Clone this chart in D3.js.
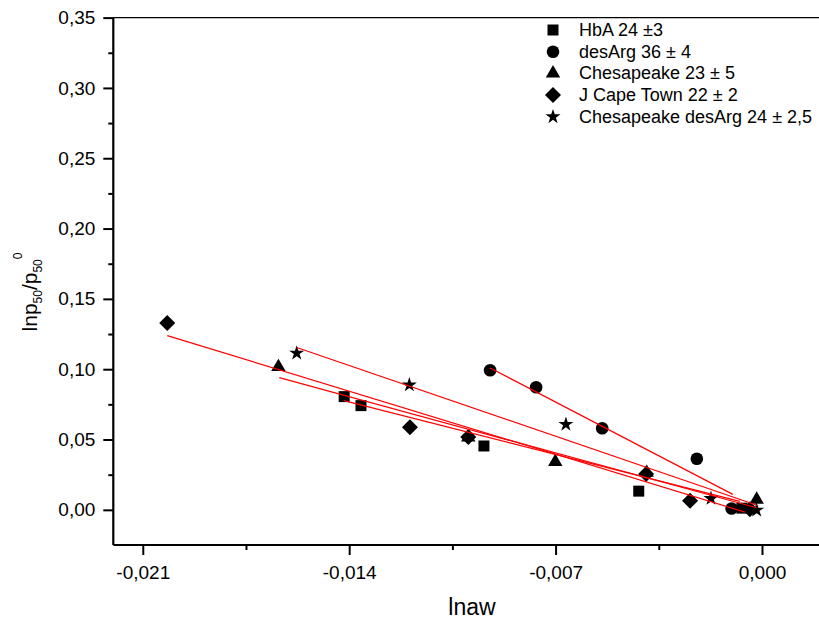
<!DOCTYPE html>
<html>
<head>
<meta charset="utf-8">
<script src="https://cdn.jsdelivr.net/npm/d3@7"></script>
<style>
body { margin:0; background:#fff; }
text { font-family: "Liberation Sans", Arial, sans-serif; fill:#000; }
</style>
</head>
<body>
<div id="chart"></div>
<script>
// values
var seriesNames = ["HbA 24 \u00b13", "desArg 36 \u00b1 4", "Chesapeake 23 \u00b1 5", "J Cape Town 22 \u00b1 2", "Chesapeake desArg 24 \u00b1 2,5"];

var hbaX = [-0.01417, -0.01360, -0.00943, -0.00418, -0.00068];
var hbaY = [0.0805, 0.0741, 0.0454, 0.0133, 0.0012];

var desArgX = [-0.00922, -0.00766, -0.00542, -0.00221, -0.00103];
var desArgY = [0.0993, 0.0872, 0.0580, 0.0363, 0.0010];

var chesX = [-0.01640, -0.00996, -0.00701, -0.00391, -0.00018];
var chesY = [0.1016, 0.0516, 0.0342, 0.0264, 0.0073];

var capeX = [-0.02017, -0.01194, -0.00996, -0.00393, -0.00244, -0.00041];
var capeY = [0.1328, 0.0587, 0.0518, 0.0254, 0.0064, 0.0005];

var starX = [-0.01578, -0.01196, -0.00665, -0.00173, -0.00018];
var starY = [0.1114, 0.0888, 0.0608, 0.0081, -0.0002];

// fitted lines: [x start, y start, x end, y end]
var hbaFit = [-0.01418, 0.0776, -0.00075, 0.0060];
var desArgFit = [-0.00922, 0.1009, -0.00099, 0.0110];
var chesFit = [-0.01637, 0.0940, -0.00018, 0.0015];
var capeFit = [-0.02017, 0.1239, -0.00058, -0.0016];
var starFit = [-0.01578, 0.1154, -0.00017, 0.0033];

var xTicks = [-0.021, -0.014, -0.007, 0];
var xMinor = [-0.0175, -0.0105, -0.0035];
var yTicks = [0, 0.05, 0.10, 0.15, 0.20, 0.25, 0.30, 0.35];
var yMinor = [0.025, 0.075, 0.125, 0.175, 0.225, 0.275, 0.325];

var width = 819, height = 623;

var xScale = d3.scaleLinear()
    .domain([-0.022, 0.0025])
    .range([113.3, 835.7]);

var yScale = d3.scaleLinear()
    .domain([-0.025, 0.35])
    .range([545, 17.6]);

var fmtX = function(d){ return d3.format(".3f")(d).replace("\u2212", "-").replace(".", ","); };
var fmtY = function(d){ return d3.format(".2f")(d).replace(".", ","); };

var diamond = {
    draw: function(ctx, size){
        var r = Math.sqrt(size / 2);
        ctx.moveTo(0, -r); ctx.lineTo(r, 0); ctx.lineTo(0, r); ctx.lineTo(-r, 0); ctx.closePath();
    }
};

var symbols = [
    d3.symbol().type(d3.symbolSquare).size(121),
    d3.symbol().type(d3.symbolCircle).size(125),
    d3.symbol().type(d3.symbolTriangle).size(90),
    d3.symbol().type(diamond).size(128),
    d3.symbol().type(d3.symbolStar).size(70)
];

var series = [
    {x: hbaX, y: hbaY, fit: hbaFit},
    {x: desArgX, y: desArgY, fit: desArgFit},
    {x: chesX, y: chesY, fit: chesFit},
    {x: capeX, y: capeY, fit: capeFit},
    {x: starX, y: starY, fit: starFit}
];

var svg = d3.select("#chart").append("svg")
    .attr("width", width)
    .attr("height", height);

// frame lines
svg.append("line")
    .attr("x1", xScale.range()[0]).attr("x2", width)
    .attr("y1", yScale(0.35)).attr("y2", yScale(0.35))
    .attr("stroke", "#000").attr("stroke-width", 1.3);

var xAxis = svg.append("g")
    .attr("transform", "translate(0," + yScale.range()[0] + ")")
    .call(d3.axisBottom(xScale).tickValues(xTicks).tickFormat(fmtX).tickSize(10).tickPadding(11));
xAxis.select(".domain").attr("stroke-width", 2.2).attr("d", "M" + xScale.range()[0] + ",0H" + width);
xAxis.selectAll(".tick line").attr("stroke-width", 2);
xAxis.selectAll("text").attr("font-size", 19).style("font-family", "Liberation Sans, Arial, sans-serif");

svg.append("g")
    .attr("transform", "translate(0," + yScale.range()[0] + ")")
    .call(d3.axisBottom(xScale).tickValues(xMinor).tickFormat("").tickSize(5))
    .call(function(g){ g.select(".domain").remove(); g.selectAll("line").attr("stroke-width", 2); });

var yAxis = svg.append("g")
    .attr("transform", "translate(" + xScale.range()[0] + ",0)")
    .call(d3.axisLeft(yScale).tickValues(yTicks).tickFormat(fmtY).tickSize(10).tickPadding(8));
yAxis.select(".domain").attr("stroke-width", 2.2).attr("d", "M0," + yScale.range()[0] + "V" + yScale.range()[1]);
yAxis.selectAll(".tick line").attr("stroke-width", 2);
yAxis.selectAll("text").attr("font-size", 19).style("font-family", "Liberation Sans, Arial, sans-serif");

svg.append("g")
    .attr("transform", "translate(" + xScale.range()[0] + ",0)")
    .call(d3.axisLeft(yScale).tickValues(yMinor).tickFormat("").tickSize(5))
    .call(function(g){ g.select(".domain").remove(); g.selectAll("line").attr("stroke-width", 2); });

// axis titles
svg.append("text")
    .attr("x", 472).attr("y", 615)
    .attr("text-anchor", "middle")
    .attr("font-size", 23)
    .text("lnaw");

var ylab = svg.append("text")
    .attr("transform", "translate(37,292) rotate(-90)")
    .attr("text-anchor", "middle")
    .attr("font-size", 21);
ylab.append("tspan").text("lnp");
ylab.append("tspan").attr("font-size", 12).attr("dy", 5).text("50");
ylab.append("tspan").attr("dy", -5).text("/p");
ylab.append("tspan").attr("font-size", 12).attr("dy", 5).text("50");
ylab.append("tspan").attr("font-size", 12).attr("dy", -20).text("0");

// points
series.forEach(function(s, i){
    svg.append("g").selectAll("path")
        .data(d3.range(s.x.length))
        .enter().append("path")
        .attr("transform", function(j){ return "translate(" + xScale(s.x[j]) + "," + yScale(s.y[j]) + ")"; })
        .attr("d", symbols[i])
        .attr("fill", "#000");
});

// fit lines
series.forEach(function(s){
    svg.append("line")
        .attr("x1", xScale(s.fit[0])).attr("y1", yScale(s.fit[1]))
        .attr("x2", xScale(s.fit[2])).attr("y2", yScale(s.fit[3]))
        .attr("stroke", "#ff0000")
        .attr("stroke-width", 1.2);
});

// legend
var legend = svg.append("g").attr("transform", "translate(553,30)");
seriesNames.forEach(function(name, i){
    var row = legend.append("g").attr("transform", "translate(0," + (i * 21.7) + ")");
    row.append("path").attr("d", symbols[i]).attr("fill", "#000");
    row.append("text")
        .attr("x", 26).attr("y", 6)
        .attr("font-size", 18)
        .text(name);
});
</script>
</body>
</html>
